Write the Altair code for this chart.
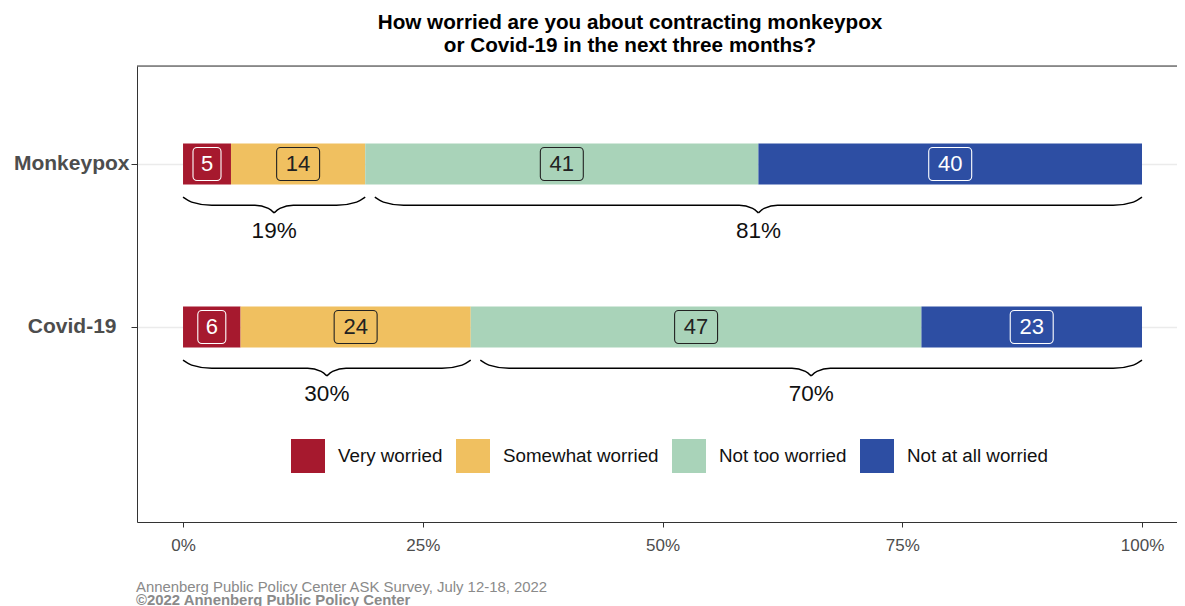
import altair as alt
import pandas as pd

# ---------------- data ----------------
rows = ["Monkeypox", "Covid-19"]
row_pos = [2, 1]
categories = ["Very worried", "Somewhat worried", "Not too worried", "Not at all worried"]
colors = ["#A6192E", "#F0C060", "#A9D3B9", "#2D4EA3"]
label_colors = ["white", "#222222", "#222222", "white"]
very = [5, 6]
somewhat = [14, 24]
not_too = [41, 47]
not_at_all = [40, 23]
worried_pct = [19, 30]
not_worried_pct = [81, 70]
x_ticks = [0, 25, 50, 75, 100]
title_lines = ["How worried are you about contracting monkeypox",
               "or Covid-19 in the next three months?"]
source_lines = ["Annenberg Public Policy Center ASK Survey, July 12-18, 2022",
                "\u00a92022 Annenberg Public Policy Center"]

FONT = "Liberation Sans"
W, H = 1040, 456
BAR_HALF = 0.126
BOX_HALF_H = 0.101
GAP = 1.0

# ---------------- tables ----------------
series = [very, somewhat, not_too, not_at_all]
seg_recs, box_recs = [], []
for r, row in enumerate(rows):
    start = 0
    for c, cat in enumerate(categories):
        v = series[c][r]
        end = start + v
        mid = (start + end) / 2
        p = row_pos[r]
        seg_recs.append(dict(row=row, cat=cat, start=start, end=end,
                             y0=p - BAR_HALF, y1=p + BAR_HALF))
        half_w = 1.46 if len(str(v)) == 1 else 2.24
        box_recs.append(dict(row=row, label=str(v), mid=mid, yc=p,
                             bx0=mid - half_w, bx1=mid + half_w,
                             by0=p - BOX_HALF_H, by1=p + BOX_HALF_H,
                             tc=label_colors[c]))
        start = end
seg = pd.DataFrame(seg_recs)
boxes = pd.DataFrame(box_recs)

# braces (curly) below each bar
TOP, HOR, TIP = 0.204, 0.254, 0.300
CW, TW = 3.0, 2.0
brace_recs, brace_lbl = [], []
bid = 0
for r, row in enumerate(rows):
    p = row_pos[r]
    spans = [(0, worried_pct[r], worried_pct[r]),
             (worried_pct[r] + GAP, 100, not_worried_pct[r])]
    for a, b, pct in spans:
        m = (a + b) / 2
        left = [(a, TOP), (a + 0.3 * CW, TOP + 0.6 * (HOR - TOP)), (a + CW, HOR),
                (m - TW, HOR), (m - 0.3 * TW, HOR + 0.4 * (TIP - HOR)), (m, TIP)]
        right = [(m, TIP), (m + 0.3 * TW, HOR + 0.4 * (TIP - HOR)), (m + TW, HOR),
                 (b - CW, HOR), (b - 0.3 * CW, TOP + 0.6 * (HOR - TOP)), (b, TOP)]
        for half in (left, right):
            for k, (bx, off) in enumerate(half):
                brace_recs.append(dict(bid=bid, ord=k, bx=bx, by=p - off))
            bid += 1
        brace_lbl.append(dict(x=m, y=p - 0.41, text=f"{pct}%"))
braces = pd.DataFrame(brace_recs)
brace_labels = pd.DataFrame(brace_lbl)

# ---------------- scales / axes ----------------
xscale = alt.Scale(domain=[-4.8, 103.65], nice=False, zero=False)
yscale = alt.Scale(domain=[-0.1965, 2.601], nice=False, zero=False)

label_expr = " : ".join(
    f"datum.value == {p} ? '{lab}'" for p, lab in zip(row_pos, rows)) + " : ''"

xaxis = alt.Axis(values=x_ticks, labelExpr="datum.value + '%'", title=None, grid=False,
                 domain=True, domainColor="#333333", domainWidth=1,
                 tickColor="#333333", tickSize=5, tickWidth=1,
                 labelFont=FONT, labelFontSize=17, labelColor="#4d4d4d", labelPadding=10)
yaxis = alt.Axis(values=row_pos, labelExpr=label_expr, title=None,
                 grid=True, gridColor="#ebebeb", gridWidth=1.5,
                 domain=True, domainColor="#333333", domainWidth=1,
                 tickColor="#333333", tickSize=6, tickWidth=1,
                 labelFont=FONT, labelFontSize=21, labelFontWeight="bold",
                 labelColor="#4d4d4d",
                 labelPadding={"condition": {"test": f"datum.value == {row_pos[1]}", "value": 15},
                               "value": 2},
                 labelLimit=300)

bars = alt.Chart(seg).mark_rect().encode(
    x=alt.X("start:Q", scale=xscale, axis=xaxis),
    x2="end:Q",
    y=alt.Y("y0:Q", scale=yscale, axis=yaxis),
    y2="y1:Q",
    color=alt.Color("cat:N", scale=alt.Scale(domain=categories, range=colors),
                    legend=alt.Legend(orient="none", legendX=154, legendY=373,
                                      direction="horizontal", columns=4, title=None,
                                      symbolType="square", symbolSize=1156,
                                      symbolStrokeWidth=0, symbolOpacity=1,
                                      labelFont=FONT, labelFontSize=18.8,
                                      labelColor="#111111", labelOffset=13,
                                      columnPadding=13, labelLimit=400)),
)

box_layer = alt.Chart(boxes).mark_rect(cornerRadius=4, fillOpacity=0, strokeWidth=1.1).encode(
    x="bx0:Q", x2="bx1:Q", y="by0:Q", y2="by1:Q",
    stroke=alt.Stroke("tc:N", scale=None),
)

box_text = alt.Chart(boxes).mark_text(font=FONT, fontSize=22, baseline="middle").encode(
    x="mid:Q", y="yc:Q", text="label:N", color=alt.Color("tc:N", scale=None),
)

brace_layer = alt.Chart(braces).mark_line(interpolate="monotone", color="black",
                                          strokeWidth=1.5).encode(
    x="bx:Q", y="by:Q", detail="bid:N", order="ord:Q",
)

brace_text = alt.Chart(brace_labels).mark_text(font=FONT, fontSize=22.5, color="#111111",
                                               baseline="middle").encode(
    x="x:Q", y="y:Q", text="text:N",
)

top_border = alt.Chart(pd.DataFrame({"k": [0]})).mark_rule(color="#333333", strokeWidth=1).encode(
    x=alt.value(0), x2=alt.value(W), y=alt.value(0),
)

src1 = alt.Chart(pd.DataFrame({"t": [source_lines[0]]})).mark_text(
    font=FONT, fontSize=14.9, color="#8a8a8a", align="left", baseline="alphabetic").encode(
    x=alt.value(-1), y=alt.value(526), text="t:N")
src2 = alt.Chart(pd.DataFrame({"t": [source_lines[1]]})).mark_text(
    font=FONT, fontSize=14.9, fontWeight="bold", color="#8a8a8a", align="left",
    baseline="alphabetic").encode(
    x=alt.value(-1), y=alt.value(539), text="t:N")

chart = alt.layer(bars, box_layer, box_text, brace_layer, brace_text, top_border, src1, src2).properties(
    width=W, height=H,
    title=alt.TitleParams(text=title_lines, font=FONT, fontSize=20.7, fontWeight="bold",
                          color="black", anchor="middle", dx=-27, offset=9, lineHeight=23),
    autosize=alt.AutoSizeParams(type="none"),
    padding={"left": 129, "top": 58, "right": 0, "bottom": 88},
).configure_view(stroke=None).configure(background="white")

chart.save("out.html", embed_options={"renderer": "svg", "actions": False})
